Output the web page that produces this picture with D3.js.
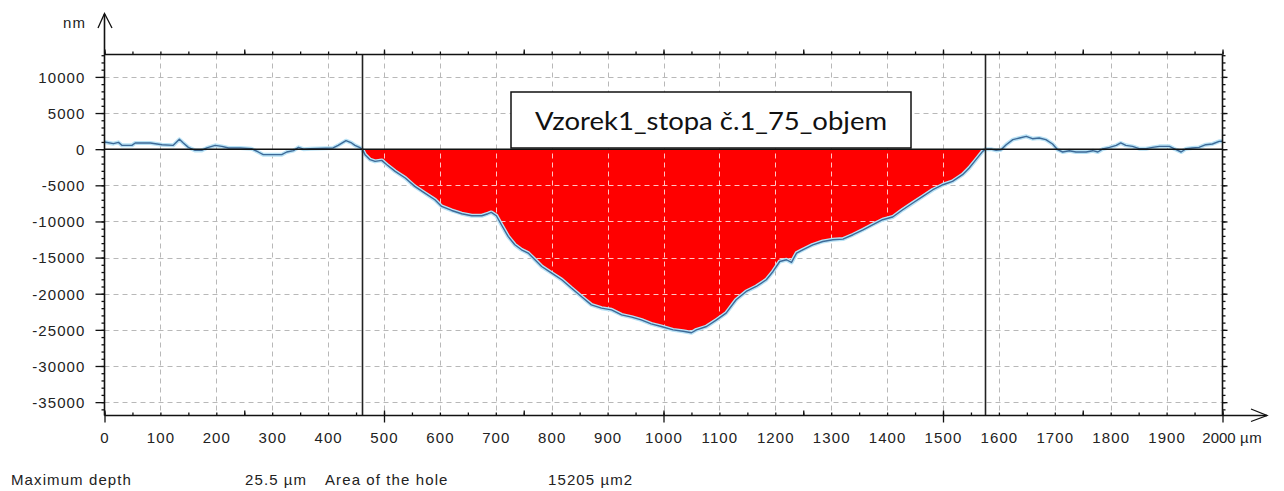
<!DOCTYPE html>
<html>
<head>
<meta charset="utf-8">
<script src="https://cdn.jsdelivr.net/npm/d3@7"></script>
<style>
  html, body { margin: 0; padding: 0; background: #fff; }
  svg { display: block; }
  .lbl { font-family: "Liberation Sans", Arial, sans-serif; font-size: 15px; fill: #222; letter-spacing: 1.1px; }
</style>
</head>
<body>
<svg id="chart" width="1284" height="491"></svg>
<script>
// ---- data (µm, nm) ----
const leftX  = [0,16,25,31,49,55,82,103,123,134,141,150,162,174,183,198,210,222,243,263,275,284,317,326,338,347,356,368,409,418,432,442,448,456,461];
const leftY  = [1000,760,940,530,530,860,860,620,530,1360,860,250,-170,-170,170,530,390,170,170,70,-390,-760,-760,-390,-200,250,0,70,170,530,1180,860,530,250,0];

const holeX  = [461,466,475,484,496,505,520,538,555,573,591,603,621,639,657,675,686,692,701,710,722,734,746,758,770,782,800,818,835,853,871,889,907,925,943,960,978,996,1017,1035,1050,1059,1077,1095,1112,1130,1148,1166,1184,1196,1208,1220,1229,1238,1249,1267,1285,1303,1321,1339,1357,1374,1392,1410,1428,1446,1464,1482,1500,1517,1535,1547,1559,1571,1576];
const holeY  = [0,-760,-1450,-1690,-1550,-2150,-3070,-3990,-5150,-6070,-7000,-7920,-8480,-8930,-9210,-9210,-8930,-8750,-9210,-10460,-12070,-13230,-13920,-14380,-15300,-16230,-17150,-18070,-19220,-20380,-21540,-22000,-22230,-22920,-23240,-23610,-24170,-24540,-25000,-25200,-25400,-25000,-24540,-23610,-22690,-20840,-19690,-19000,-18070,-16920,-15540,-15300,-15670,-14380,-13920,-13230,-12770,-12530,-12440,-11840,-11150,-10460,-9760,-9390,-8380,-7450,-6540,-5610,-4920,-4460,-3530,-2600,-1450,-300,0];

const rightX = [1576,1586,1595,1604,1613,1625,1637,1649,1660,1672,1684,1696,1705,1714,1726,1738,1756,1768,1777,1786,1798,1810,1818,1827,1839,1851,1863,1875,1887,1905,1917,1926,1935,1946,1958,1970,1982,1994,2000];
const rightY = [0,0,-170,-70,620,1320,1550,1780,1450,1550,1320,720,-70,-390,-210,-390,-390,-210,-390,30,250,530,860,530,390,70,70,250,390,390,-70,-390,70,160,250,620,720,1080,1100];

const cursors = [461, 1576];
const xLabelTicks = d3.range(0, 2001, 100);
const xMinorTicks = d3.range(0, 2001, 50);
const xMidTicks   = d3.range(0, 2001, 250);
const xMajorTicks = [0, 500, 1000, 1500, 2000];
const yLabelTicks = d3.range(-35000, 10001, 5000);
const yMinorTicks = d3.range(-36000, 13001, 1000);
const xGrid = d3.range(100, 2000, 100);
const yGrid = [-35000,-30000,-25000,-20000,-15000,-10000,-5000,5000,10000];

const titleText = "Vzorek1_stopa č.1_75_objem";
const yUnit = "nm";
const xUnit = "µm";
const infoTexts = [
  {t: "Maximum depth", x: 11},
  {t: "25.5 µm", x: 245},
  {t: "Area of the hole", x: 325},
  {t: "15205 µm2", x: 548}
];

// ---- layout ----
const L = 104.5, R = 1222.5, T = 54.5, B = 415.5;
const x = d3.scaleLinear().domain([0, 2000]).range([L, R]);
const y = d3.scaleLinear().domain([-36850, 13100]).range([B, T]);

const svg = d3.select("#chart");
svg.append("rect").attr("width", 1284).attr("height", 491).attr("fill", "#fff");

const profile = [];
leftX.forEach((d, i) => profile.push([d, leftY[i]]));
holeX.slice(1).forEach((d, i) => profile.push([d, holeY[i + 1]]));
rightX.slice(1).forEach((d, i) => profile.push([d, rightY[i + 1]]));
const hole = holeX.map((d, i) => [d, holeY[i]]);

// grid
function drawGrid(g, color) {
  g.selectAll(".gv").data(xGrid).join("line")
    .attr("x1", d => Math.round(x(d)) + 0.5).attr("x2", d => Math.round(x(d)) + 0.5)
    .attr("y1", T).attr("y2", B)
    .attr("stroke", color).attr("stroke-width", 1).attr("stroke-dasharray", "5,4");
  g.selectAll(".gh").data(yGrid).join("line")
    .attr("x1", L).attr("x2", R)
    .attr("y1", d => Math.round(y(d)) + 0.5).attr("y2", d => Math.round(y(d)) + 0.5)
    .attr("stroke", color).attr("stroke-width", 1).attr("stroke-dasharray", "5,4");
}
drawGrid(svg.append("g"), "#b8b8b8");

// red area
const area = d3.area().x(d => x(d[0])).y0(y(0)).y1(d => y(d[1]));
svg.append("path").datum(hole).attr("d", area).attr("fill", "#ff0000");
svg.append("clipPath").attr("id", "holeclip").append("path").datum(hole).attr("d", area);
drawGrid(svg.append("g").attr("clip-path", "url(#holeclip)"), "#ffc4c4");

// profile line with halo
const line = d3.line().x(d => x(d[0])).y(d => y(d[1]));
svg.append("path").datum(profile).attr("d", line)
  .attr("fill", "none").attr("stroke", "#b9e2f5").attr("stroke-width", 4).attr("stroke-linejoin", "round");
svg.append("path").datum(profile).attr("d", line)
  .attr("fill", "none").attr("stroke", "#3d6a98").attr("stroke-width", 1.4).attr("stroke-linejoin", "round");

// zero line
svg.append("line").attr("x1", L).attr("x2", R).attr("y1", y(0)).attr("y2", y(0))
  .attr("stroke", "#111").attr("stroke-width", 1.6);

// cursors
svg.selectAll(".cur").data(cursors).join("line")
  .attr("x1", d => Math.round(x(d)) + 0.5).attr("x2", d => Math.round(x(d)) + 0.5)
  .attr("y1", T).attr("y2", B).attr("stroke", "#222").attr("stroke-width", 1.6);

// axes
function styleAxis(g) {
  g.select(".domain").remove();
  g.selectAll(".tick line").attr("stroke", "#111").attr("stroke-width", 1.3);
}
// bottom
svg.append("g").attr("transform", `translate(0,${B})`)
  .call(d3.axisBottom(x).tickValues(xMinorTicks).tickSize(-3).tickFormat("")).call(styleAxis);
svg.append("g").attr("transform", `translate(0,${B})`)
  .call(d3.axisBottom(x).tickValues(xMidTicks).tickSize(-5).tickFormat("")).call(styleAxis);
svg.append("g").attr("transform", `translate(0,${B})`)
  .call(d3.axisBottom(x).tickValues(xMajorTicks).tickSize(7).tickFormat("")).call(styleAxis);
const xl = svg.append("g").attr("transform", `translate(0,${B})`)
  .call(d3.axisBottom(x).tickValues(xLabelTicks).tickSize(0).tickPadding(17).tickFormat(d => String(d)));
xl.select(".domain").remove();
xl.selectAll("text").attr("class", "lbl");
xl.attr("font-family", null).attr("font-size", null);
// last label sits tighter, left of the unit
xl.selectAll(".tick").filter(d => d === 2000).select("text")
  .style("letter-spacing", "0px").attr("dx", "-4");
// top
svg.append("g").attr("transform", `translate(0,${T})`)
  .call(d3.axisTop(x).tickValues(xMinorTicks).tickSize(3).tickFormat("")).call(styleAxis);
svg.append("g").attr("transform", `translate(0,${T})`)
  .call(d3.axisTop(x).tickValues(xMidTicks).tickSize(5).tickFormat("")).call(styleAxis);
// left
svg.append("g").attr("transform", `translate(${L},0)`)
  .call(d3.axisLeft(y).tickValues(yMinorTicks).tickSize(3).tickFormat("")).call(styleAxis);
const yl = svg.append("g").attr("transform", `translate(${L},0)`)
  .call(d3.axisLeft(y).tickValues(yLabelTicks).tickSize(9).tickPadding(10).tickFormat(d => String(d)));
yl.call(styleAxis);
yl.selectAll("text").attr("class", "lbl").attr("dy", "0.36em");
yl.attr("font-family", null).attr("font-size", null);
// right
svg.append("g").attr("transform", `translate(${R},0)`)
  .call(d3.axisRight(y).tickValues(yMinorTicks).tickSize(3).tickFormat("")).call(styleAxis);
svg.append("g").attr("transform", `translate(${R},0)`)
  .call(d3.axisRight(y).tickValues(yLabelTicks).tickSize(5).tickFormat("")).call(styleAxis);

// frame
const fr = svg.append("g").attr("stroke", "#111").attr("stroke-width", 1.6).attr("fill", "none");
fr.append("line").attr("x1", L).attr("x2", R).attr("y1", T).attr("y2", T);
fr.append("line").attr("x1", R).attr("x2", R).attr("y1", T).attr("y2", B);
fr.append("line").attr("x1", L).attr("x2", 1267).attr("y1", B).attr("y2", B);
fr.append("line").attr("x1", L).attr("x2", L).attr("y1", 14).attr("y2", B);
// arrows
fr.append("path").attr("d", `M${L - 6.5},28 L${L},13.5 L${L + 7.5},28`).attr("stroke-width", 1.3);
fr.append("path").attr("d", `M1251,409 L1267,${B} L1251,421.5`).attr("stroke-width", 1.3);

// unit labels
svg.append("text").attr("class", "lbl").attr("x", 86).attr("y", 28).attr("text-anchor", "end").text(yUnit);
svg.append("text").attr("class", "lbl").attr("x", 1240).attr("y", 443).style("letter-spacing", "0.5px").text(xUnit);

// info texts
svg.selectAll(".info").data(infoTexts).join("text")
  .attr("class", "lbl").attr("x", d => d.x).attr("y", 485).text(d => d.t);

// title box
svg.append("rect").attr("x", 511).attr("y", 92).attr("width", 400).attr("height", 56)
  .attr("fill", "#fff").attr("stroke", "#111").attr("stroke-width", 1.5);
svg.append("text").attr("x", 711).attr("y", 130).attr("text-anchor", "middle")
  .attr("font-family", "Lato, 'Open Sans', sans-serif").attr("font-size", 25).attr("fill", "#111")
  .attr("textLength", 352).attr("lengthAdjust", "spacingAndGlyphs")
  .text(titleText);
</script>
</body>
</html>
